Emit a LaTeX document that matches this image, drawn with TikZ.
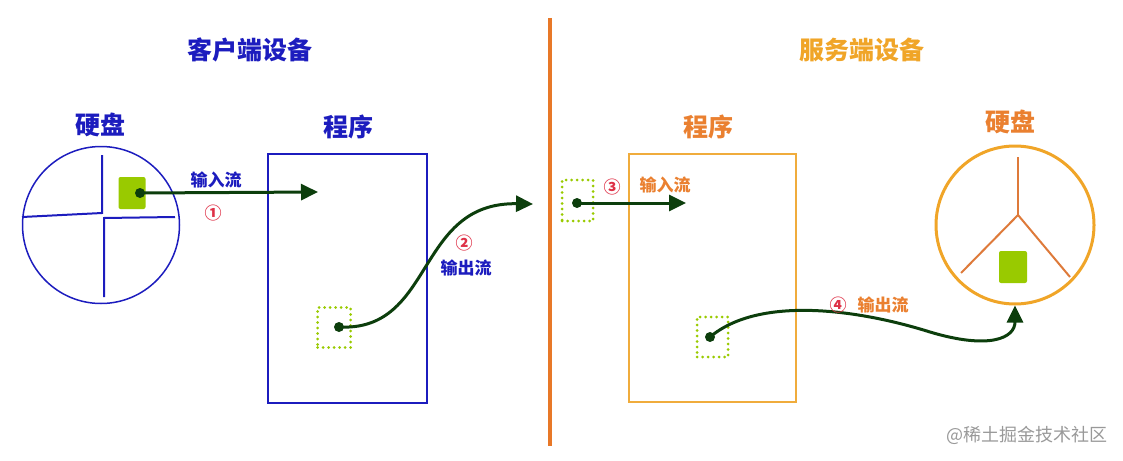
\documentclass[tikz,border=0pt]{standalone}
\usepackage{fontspec}
\newfontfamily\cjk{Noto Sans CJK SC}
\usetikzlibrary{positioning,arrows.meta,calc}
\definecolor{cliblue}{RGB}{28,28,190}
\definecolor{srvorange}{RGB}{240,165,40}
\definecolor{txtorange}{RGB}{234,128,48}
\definecolor{boxorange}{RGB}{240,172,60}
\definecolor{yorange}{RGB}{222,122,58}
\definecolor{divorange}{RGB}{232,120,40}
\definecolor{flowgreen}{RGB}{12,62,12}
\definecolor{blockgreen}{RGB}{153,202,0}
\definecolor{numred}{RGB}{222,48,70}

\begin{document}
\begin{tikzpicture}[
  x=1pt, y=-1pt,
  font=\cjk,
  title/.style={font=\cjk\bfseries\fontsize{25}{25}\selectfont},
  lbl/.style={font=\cjk\bfseries\fontsize{25}{25}\selectfont},
  flow/.style={font=\cjk\bfseries\fontsize{17}{17}\selectfont},
  num/.style={font=\cjk\bfseries\fontsize{17}{17}\selectfont, text=numred},
  disk/.style={circle, draw, minimum size=157pt, inner sep=0pt},
  prog/.style={draw, inner sep=0pt},
  blk/.style={fill=blockgreen, rounded corners=2pt, minimum width=27pt,
              minimum height=32pt, inner sep=0pt},
  slot/.style={draw=blockgreen, line width=3pt, line cap=round,
               dash pattern=on 0pt off 5.5pt, inner sep=0pt},
  dot/.style={circle, fill=flowgreen, minimum size=10pt, inner sep=0pt},
  arr/.style={-{Triangle[length=17pt,width=16pt]}, line width=3pt,
              draw=flowgreen}
]
\useasboundingbox (0,0) rectangle (1123,460);

% titles and divider
\node[title, text=cliblue] (ctitle) at (250,50) {客户端设备};
\node[title, text=srvorange] (stitle) at (862,50) {服务端设备};
\draw[divorange, line width=4pt] (550,18) -- (550,446);

% client: disk
\node[disk, draw=cliblue, line width=1.5pt] (diskL) at (101,225) {};
\node[lbl, text=cliblue] (diskLlbl) at (100,125) {硬盘};
\draw[cliblue, line width=2pt] (102,155) -- (102,213) -- (22,217);
\draw[cliblue, line width=2pt] (104,297) -- (104,218) -- (175,217);
\node[blk] (dataL) at (132,193) {};
\node[dot] (srcA) at (140,193) {};

% client: program
\node[prog, draw=cliblue, line width=1.3pt, minimum width=159pt,
      minimum height=249pt] (progL) at (347.5,278.5) {};
\node[lbl, text=cliblue] (progLlbl) at (348,127) {程序};
\node[slot, minimum width=33pt, minimum height=40pt] (bufL) at (334,327.5) {};
\node[dot] (srcB) at (339,327) {};

\coordinate (endA) at (318,192);
\coordinate (endB) at (533,204);
\draw[arr] (srcA.center) -- (endA);
\draw[arr] (srcB.center) .. controls (435,332) and (415,202) .. (endB);
\node[flow, text=cliblue] (inA) at (216,180) {输入流};
\node[num] (n1) at (213,213) {①};
\node[num] (n2) at (464,243) {②};
\node[flow, text=cliblue] (outB) at (466,268) {输出流};

% server: program
\node[prog, draw=boxorange, line width=1.3pt, minimum width=167pt,
      minimum height=248pt] (progR) at (712.5,278) {};
\node[lbl, text=txtorange] (progRlbl) at (708,127) {程序};
\node[slot, minimum width=31pt, minimum height=41pt] (bufIn) at (577.5,200.5) {};
\node[dot] (srcC) at (577,203) {};
\node[slot, minimum width=31pt, minimum height=40pt] (bufOut) at (712.5,337) {};
\node[dot] (srcD) at (710,337) {};

% server: disk
\node[disk, draw=srvorange, line width=3pt, minimum size=158pt] (diskR) at (1015,225) {};
\node[lbl, text=txtorange] (diskRlbl) at (1010,122) {硬盘};
\coordinate (hub) at (1018,215);
\draw[yorange, line width=2pt] (hub) -- (1018,157);
\draw[yorange, line width=2pt] (hub) -- (961,273);
\draw[yorange, line width=2pt] (hub) -- (1070,277);
\node[blk, minimum width=28pt] (dataR) at (1013,267) {};

\coordinate (endC) at (686,203);
\coordinate (bend) at (930,332);
\draw[arr] (srcC.center) -- (endC);
\draw[arr] (srcD.center) .. controls (760,295) and (860,310) .. (bend)
  .. controls (990,350) and (1015,338) .. (diskR.south);
\node[num] (n3) at (612,187) {③};
\node[flow, text=txtorange] (inC) at (665,185) {输入流};
\node[num] (n4) at (838,305) {④};
\node[flow, text=txtorange] (outD) at (883,305) {输出流};

% watermark
\node[font=\cjk\fontsize{18}{18}\selectfont, text=black!40] (mark) at (1027,435) {@稀土掘金技术社区};
\end{tikzpicture}
\end{document}
